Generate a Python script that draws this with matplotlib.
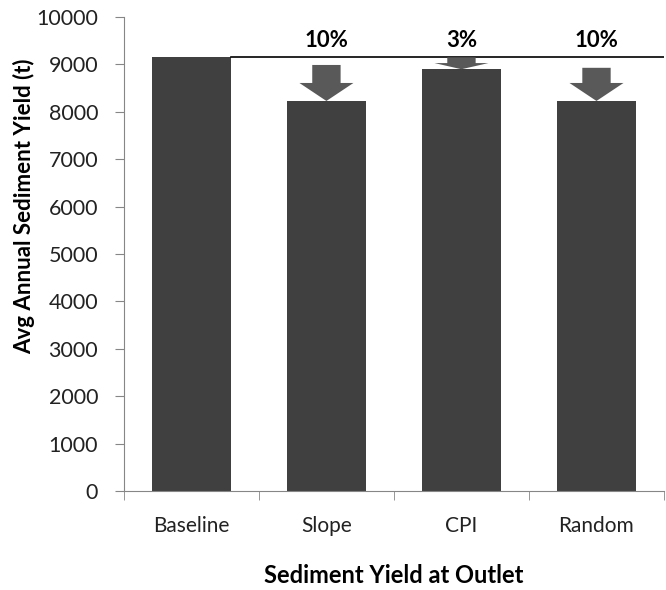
import matplotlib
matplotlib.use("Agg")
import matplotlib.pyplot as plt
import numpy as np

categories = ["Baseline", "Slope", "CPI", "Random"]
yields = [9150, 8230, 8900, 8230]
pct_labels = ["", "10%", "3%", "10%"]
arrow_tops = [None, 8990, 9150, 8930]
head_lengths = [None, 380, 130, 380]

plt.rcParams["font.family"] = ["Lato", "DejaVu Sans"]

fig = plt.figure(figsize=(6.66, 5.90), dpi=100)
ax = fig.add_axes([0.186, 0.168, 0.811, 0.803])

x = np.arange(len(categories))
ax.bar(x, yields, width=0.58, color="#404040", zorder=2)

# baseline reference line
ax.plot([x[0] + 0.29, len(categories) - 0.5], [yields[0], yields[0]],
        color="black", lw=1.2, zorder=3)

for i in range(1, len(categories)):
    top = arrow_tops[i]
    ax.arrow(x[i], top, 0, yields[i] - top, width=0.21, head_width=0.4,
             head_length=head_lengths[i], length_includes_head=True,
             color="#595959", lw=0, zorder=4)
    ax.text(x[i], 9290, pct_labels[i], ha="center", va="bottom",
            fontsize=16, fontweight="bold", color="black")

ax.set_xlim(-0.5, len(categories) - 0.5)
ax.set_ylim(0, 10000)
ax.set_yticks(np.arange(0, 10001, 1000))
ax.set_xticks(x)
ax.set_xticklabels(categories, fontsize=15, color="#222222")
ax.set_xticks(np.arange(-0.5, len(categories), 1), minor=True)
ax.tick_params(axis="x", which="major", length=0, pad=18)
ax.tick_params(axis="x", which="minor", length=6.5, color="#868686", direction="out")
ax.tick_params(axis="y", length=6.5, color="#868686", labelsize=15.5,
               labelcolor="#222222", pad=12)

for s in ["top", "right"]:
    ax.spines[s].set_visible(False)
for s in ["left", "bottom"]:
    ax.spines[s].set_color("#868686")

ax.set_ylabel("Avg Annual Sediment Yield (t)", fontsize=16, fontweight="bold")
ax.yaxis.set_label_coords(-0.165, 0.60)
ax.set_xlabel("Sediment Yield at Outlet", fontsize=17, fontweight="bold",
              labelpad=20)

fig.savefig("out.png", dpi=100)
